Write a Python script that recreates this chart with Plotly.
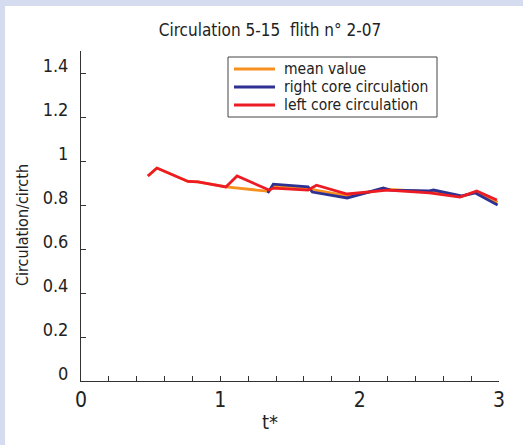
import plotly.graph_objects as go

# ---- data ----
left_t = [0.48, 0.545, 0.768, 0.84, 1.04, 1.12, 1.35, 1.38, 1.63, 1.69, 1.91, 2.20, 2.50, 2.72, 2.84, 2.985]
left_v = [0.932, 0.968, 0.907, 0.905, 0.882, 0.932, 0.868, 0.877, 0.868, 0.890, 0.850, 0.868, 0.855, 0.836, 0.864, 0.823]

right_t = [1.34, 1.38, 1.63, 1.66, 1.91, 2.17, 2.22, 2.50, 2.53, 2.73, 2.83, 2.99]
right_v = [0.855, 0.895, 0.882, 0.859, 0.832, 0.877, 0.868, 0.864, 0.868, 0.841, 0.855, 0.800]

mean_t = [0.48, 0.545, 0.768, 0.84, 1.04, 1.35, 1.38, 1.63, 1.66, 1.91, 2.19, 2.50, 2.73, 2.84, 2.99]
mean_v = [0.932, 0.968, 0.907, 0.905, 0.882, 0.862, 0.886, 0.875, 0.870, 0.841, 0.872, 0.860, 0.838, 0.860, 0.812]

series_names = ["mean value", "right core circulation", "left core circulation"]
series_colors = ["#f7901e", "#2e3192", "#ed1c24"]

x_ticks = [0, 1, 2, 3]
y_ticks = [0, 0.2, 0.4, 0.6, 0.8, 1.0, 1.2, 1.4]
y_tick_labels = ["0", "0.2", "0.4", "0.6", "0.8", "1", "1.2", "1.4"]

FONT = "Liberation Sans Narrow, DejaVu Sans Condensed, Arial Narrow, sans-serif"

fig = go.Figure()
for (tx, vy), name, col in zip([(mean_t, mean_v), (right_t, right_v), (left_t, left_v)],
                               series_names, series_colors):
    fig.add_trace(go.Scatter(x=tx, y=vy, mode="lines", name=name,
                             line=dict(color=col, width=2.8)))

L, R, T, B = 81, 24, 51, 64
W, H = 523, 445
pw, ph = W - L - R, H - T - B

def px_x(px):
    return (px - L) / pw

def px_y(py):
    return (H - B - py) / ph

shapes = [dict(type="rect", xref="paper", yref="paper", layer="below",
               x0=px_x(5), x1=px_x(W + 2), y0=px_y(H + 2), y1=px_y(6),
               fillcolor="white", line=dict(width=0)),
          # legend box
          dict(type="rect", xref="paper", yref="paper", layer="above",
               x0=px_x(228), x1=px_x(437), y0=px_y(117), y1=px_y(57),
               fillcolor="white", line=dict(color="#444", width=1))]
annotations = [
    dict(text="t*", x=px_x(270), y=px_y(422), xref="paper", yref="paper",
         showarrow=False, xanchor="center", yanchor="middle",
         font=dict(family=FONT, size=20, color="#222")),
    dict(text="Circulation/circth", x=px_x(22), y=px_y(225), xref="paper", yref="paper",
         showarrow=False, xanchor="center", yanchor="middle", textangle=-90,
         font=dict(family=FONT, size=16, color="#222")),
]
for i, (name, col) in enumerate(zip(series_names, series_colors)):
    yy = 69 + 18 * i
    shapes.append(dict(type="line", xref="paper", yref="paper", layer="above",
                       x0=px_x(234), x1=px_x(275), y0=px_y(yy), y1=px_y(yy),
                       line=dict(color=col, width=2.8)))
    annotations.append(dict(text=name, x=px_x(282), y=px_y(yy), xref="paper", yref="paper",
                            showarrow=False, xanchor="left", yanchor="middle",
                            font=dict(family=FONT, size=15.5, color="#222")))

fig.update_layout(
    width=W, height=H,
    margin=dict(l=L, r=R, t=T, b=B, pad=0),
    paper_bgcolor="#d6dcf0",
    plot_bgcolor="white",
    font=dict(family=FONT, color="#222", size=16),
    showlegend=False,
    title=dict(text="Circulation 5-15  flith n° 2-07", x=270 / W, xref="container",
               xanchor="center", y=1 - 30 / H, yref="container", yanchor="middle",
               font=dict(family=FONT, size=17, color="#222")),
    xaxis=dict(range=[0, 3], tickvals=x_ticks, ticktext=[str(v) for v in x_ticks],
               ticks="inside", ticklen=5, tickcolor="#333", showgrid=False, zeroline=False,
               showline=True, linecolor="#333", linewidth=1,
               minor=dict(dtick=0.2, ticks="inside", ticklen=5, tickcolor="#333", showgrid=False),
               tickfont=dict(family=FONT, size=21, color="#222")),
    yaxis=dict(range=[0, 1.5], tickvals=y_ticks, ticktext=y_tick_labels,
               ticks="inside", ticklen=5, tickcolor="#333", showgrid=False, zeroline=False,
               showline=True, linecolor="#333", linewidth=1,
               ticklabelshift=-7, ticklabelstandoff=8,
               tickfont=dict(family=FONT, size=18, color="#222")),
    shapes=shapes,
    annotations=annotations,
)

fig.write_html("out.html")
